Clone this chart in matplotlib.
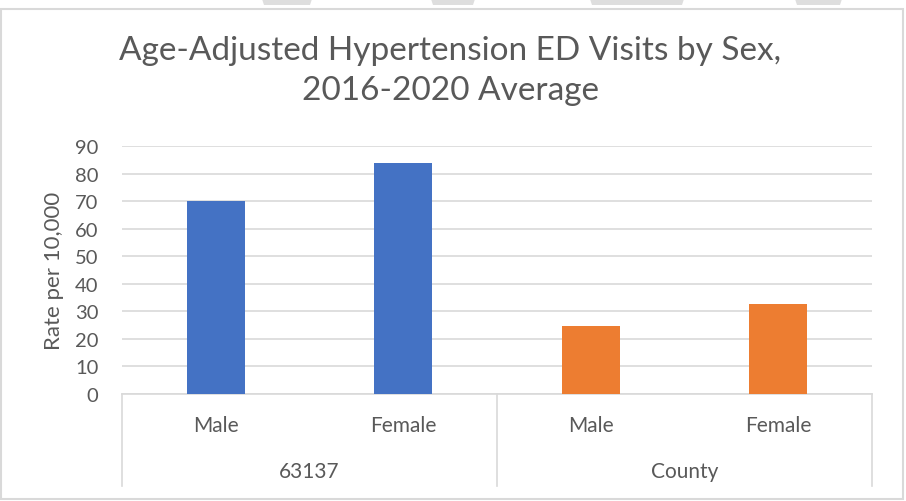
import matplotlib.pyplot as plt
import matplotlib.transforms as mtransforms
from matplotlib.patches import Rectangle, Polygon

plt.rcParams['font.family'] = ['Lato', 'DejaVu Sans']

groups = ["63137", "County"]
sexes = ["Male", "Female", "Male", "Female"]
values = [70, 84, 24.7, 32.6]
colors = ["#4472C4", "#4472C4", "#ED7D31", "#ED7D31"]
yticks = [0, 10, 20, 30, 40, 50, 60, 70, 80, 90]

text_col = "#595959"
grid_col = "#d9d9d9"

W, H = 906, 502
fig = plt.figure(figsize=(W / 100, H / 100), dpi=100)

# outer chart border and the little grey tabs along the top edge
fig.patches.append(Rectangle((1 / W, 1 - 500 / H), 902 / W, 490 / H,
                             transform=fig.transFigure, fill=False,
                             edgecolor=grid_col, linewidth=1.5))
for x0, x1 in [(262, 312), (431, 475), (590, 684), (795, 842)]:
    pts = [(x0 / W, 1), (x1 / W, 1), ((x1 - 2) / W, 1 - 6 / H), ((x0 + 2) / W, 1 - 6 / H)]
    fig.patches.append(Polygon(pts, closed=True, transform=fig.transFigure,
                               facecolor="#dedede", edgecolor="none"))

ax = fig.add_axes([122 / W, 1 - 395 / H, 750 / W, 248 / H])
x = list(range(len(values)))
ax.bar(x, values, width=0.31, color=colors, zorder=3)
ax.set_xlim(-0.5, 3.5)
ax.set_ylim(0, 90)
ax.set_yticks(yticks)
ax.tick_params(axis="y", length=0, pad=17, labelsize=14.5, labelcolor=text_col)
ax.set_xticks([])
ax.yaxis.grid(True, color=grid_col, linewidth=1.2, zorder=0)
for s in ["top", "right", "left"]:
    ax.spines[s].set_visible(False)
ax.spines["bottom"].set_color(grid_col)
ax.spines["bottom"].set_linewidth(1.2)

ax.set_ylabel("Rate per 10,000", fontsize=16, color=text_col, labelpad=8)

trans = mtransforms.blended_transform_factory(ax.transData, ax.transAxes)
low = (395 - 487) / 248
for sx in [-0.5, 1.5, 3.5]:
    ax.plot([sx, sx], [0, low], transform=trans, color=grid_col,
            linewidth=1.2, clip_on=False)
for i, s in enumerate(sexes):
    ax.text(i, (395 - 426) / 248, s, transform=trans, ha="center", va="center",
            fontsize=15, color=text_col)
for g, gname in enumerate(groups):
    ax.text(2 * g + 0.5, (395 - 472) / 248, gname, transform=trans,
            ha="center", va="center", fontsize=15, color=text_col)

fig.text(0.497, 1 - 71 / H, "Age-Adjusted Hypertension ED Visits by Sex,\n2016-2020 Average",
         ha="center", va="center", fontsize=24, color=text_col, linespacing=1.38)

fig.savefig("out.png", dpi=100)
